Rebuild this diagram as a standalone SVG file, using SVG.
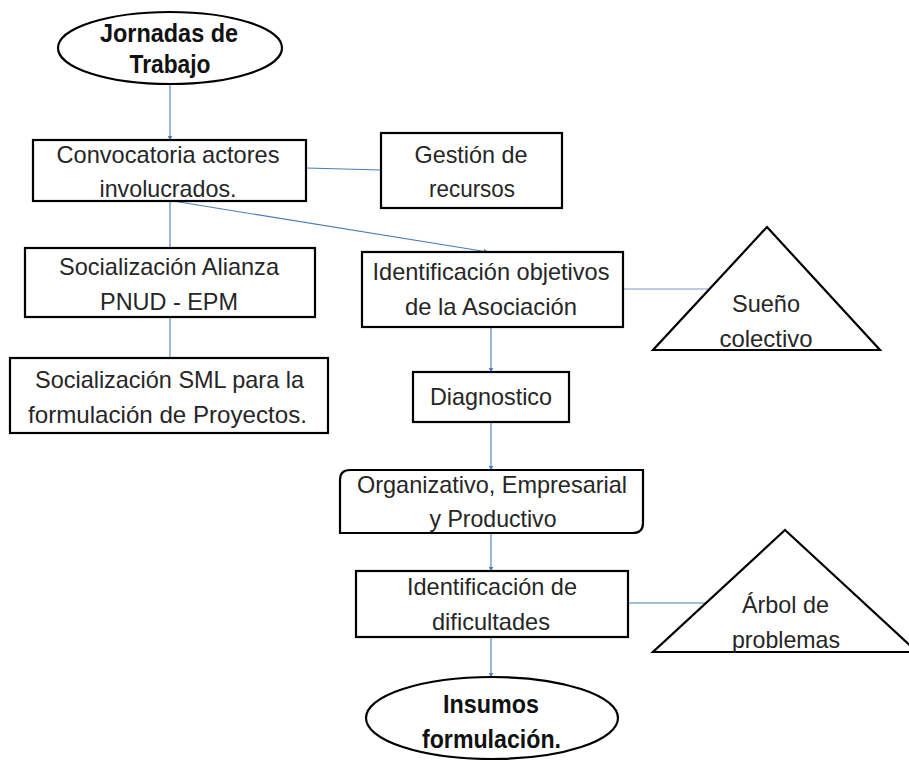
<svg xmlns="http://www.w3.org/2000/svg" width="909" height="760" viewBox="0 0 909 760">
<defs>
<style>
.shape{fill:#fff;stroke:#000;stroke-width:2.2}
.t{font-family:"Liberation Sans",Arial,sans-serif;font-size:24px;fill:#262626;text-anchor:middle}
.b{font-family:"Liberation Sans",Arial,sans-serif;font-size:26px;font-weight:bold;fill:#111;text-anchor:middle}
.c{fill:none;stroke:#4a7ebb;stroke-width:1.1}
.cl{fill:none;stroke:#b9cde6;stroke-width:2}
</style>
<marker id="ah" viewBox="0 0 10 10" refX="9" refY="5" markerWidth="5" markerHeight="5" orient="auto" markerUnits="userSpaceOnUse">
<path d="M0,0 L10,5 L0,10 z" fill="#4a7ebb"/>
</marker>
</defs>
<rect width="909" height="760" fill="#fff"/>
<g id="connectors">
<line class="c" x1="170" y1="84" x2="170" y2="140" marker-end="url(#ah)"/>
<line class="c" x1="306" y1="168" x2="381" y2="170"/>
<line class="c" x1="170" y1="201" x2="170" y2="358"/>
<line class="c" x1="173" y1="201" x2="488" y2="252" marker-end="url(#ah)"/>
<line class="cl" x1="623" y1="289" x2="708" y2="289"/>
<line class="c" x1="491" y1="327" x2="491" y2="372" marker-end="url(#ah)"/>
<line class="c" x1="491" y1="422" x2="491" y2="470" marker-end="url(#ah)"/>
<line class="c" x1="491" y1="533" x2="491" y2="571" marker-end="url(#ah)"/>
<line class="c" x1="628" y1="603" x2="726" y2="603"/>
<line class="c" x1="491" y1="637" x2="491" y2="677" marker-end="url(#ah)"/>
</g>
<g id="jornadas">
<ellipse class="shape" cx="170" cy="48" rx="112" ry="36"/>
<text class="b" x="169" y="42" textLength="138" lengthAdjust="spacingAndGlyphs">Jornadas de</text>
<text class="b" x="170" y="73" textLength="81" lengthAdjust="spacingAndGlyphs">Trabajo</text>
</g>
<g id="convocatoria">
<rect class="shape" x="33" y="140" width="273" height="61"/>
<text class="t" x="168" y="163" textLength="223" lengthAdjust="spacingAndGlyphs">Convocatoria actores</text>
<text class="t" x="168" y="197" textLength="137" lengthAdjust="spacingAndGlyphs">involucrados.</text>
</g>
<g id="gestion">
<rect class="shape" x="381" y="133" width="181" height="75"/>
<text class="t" x="471" y="163" textLength="113" lengthAdjust="spacingAndGlyphs">Gestión de</text>
<text class="t" x="472" y="197" textLength="86" lengthAdjust="spacingAndGlyphs">recursos</text>
</g>
<g id="alianza">
<rect class="shape" x="25" y="248" width="290" height="69"/>
<text class="t" x="169" y="275" textLength="220" lengthAdjust="spacingAndGlyphs">Socialización Alianza</text>
<text class="t" x="169" y="310" textLength="138" lengthAdjust="spacingAndGlyphs">PNUD - EPM</text>
</g>
<g id="sml">
<rect class="shape" x="10" y="358" width="318" height="75"/>
<text class="t" x="169.5" y="388" textLength="269" lengthAdjust="spacingAndGlyphs">Socialización SML para la</text>
<text class="t" x="167.5" y="423" textLength="279" lengthAdjust="spacingAndGlyphs">formulación de Proyectos.</text>
</g>
<g id="objetivos">
<rect class="shape" x="362" y="252" width="261" height="75"/>
<text class="t" x="491" y="280" textLength="237" lengthAdjust="spacingAndGlyphs">Identificación objetivos</text>
<text class="t" x="491" y="315" textLength="172" lengthAdjust="spacingAndGlyphs">de la Asociación</text>
</g>
<g id="sueno">
<polygon class="shape" points="767,227 880,350 653,350"/>
<text class="t" x="766" y="312" textLength="68" lengthAdjust="spacingAndGlyphs">Sueño</text>
<text class="t" x="766" y="347" textLength="93" lengthAdjust="spacingAndGlyphs">colectivo</text>
</g>
<g id="diagnostico">
<rect class="shape" x="413" y="372" width="156" height="50"/>
<text class="t" x="491" y="405" textLength="122" lengthAdjust="spacingAndGlyphs">Diagnostico</text>
</g>
<g id="organizativo">
<path class="shape" d="M350,470 H643 V523 Q643,533 633,533 H340 V480 Q340,470 350,470 Z"/>
<text class="t" x="492" y="493" textLength="270" lengthAdjust="spacingAndGlyphs">Organizativo, Empresarial</text>
<text class="t" x="493" y="527" textLength="127" lengthAdjust="spacingAndGlyphs">y Productivo</text>
</g>
<g id="dificultades">
<rect class="shape" x="356" y="571" width="272" height="66"/>
<text class="t" x="492" y="595" textLength="170" lengthAdjust="spacingAndGlyphs">Identificación de</text>
<text class="t" x="491" y="630" textLength="118" lengthAdjust="spacingAndGlyphs">dificultades</text>
</g>
<g id="arbol">
<polygon class="shape" points="785,530 917,652 653,652"/>
<text class="t" x="785.5" y="613" textLength="87" lengthAdjust="spacingAndGlyphs">Árbol de</text>
<text class="t" x="786" y="648" textLength="108" lengthAdjust="spacingAndGlyphs">problemas</text>
</g>
<g id="insumos">
<ellipse class="shape" cx="492" cy="718" rx="126" ry="41"/>
<text class="b" x="491" y="713" textLength="96" lengthAdjust="spacingAndGlyphs">Insumos</text>
<text class="b" x="491.5" y="748" textLength="139" lengthAdjust="spacingAndGlyphs">formulación.</text>
</g>
</svg>
